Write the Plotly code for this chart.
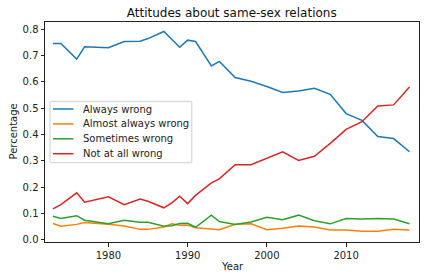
import plotly.graph_objects as go

years = [1973, 1974, 1976, 1977, 1980, 1982, 1984, 1985, 1987, 1988, 1989, 1990,
         1991, 1993, 1994, 1996, 1998, 2000, 2002, 2004, 2006, 2008, 2010, 2012,
         2014, 2016, 2018]

always_wrong = [0.745, 0.745, 0.686, 0.733, 0.729, 0.753, 0.754, 0.764, 0.791, 0.760, 0.731, 0.758,
                0.753, 0.660, 0.677, 0.616, 0.602, 0.582, 0.559, 0.565, 0.575, 0.552, 0.479, 0.453,
                0.392, 0.384, 0.334]
almost_always_wrong = [0.061, 0.051, 0.058, 0.065, 0.058, 0.052, 0.039, 0.039, 0.048, 0.060, 0.055, 0.055,
                       0.045, 0.042, 0.038, 0.058, 0.060, 0.038, 0.043, 0.052, 0.048, 0.037, 0.037, 0.032,
                       0.032, 0.039, 0.037]
sometimes_wrong = [0.089, 0.080, 0.091, 0.074, 0.060, 0.074, 0.066, 0.066, 0.051, 0.053, 0.061, 0.062,
                   0.047, 0.093, 0.069, 0.058, 0.067, 0.085, 0.076, 0.093, 0.072, 0.060, 0.080, 0.078,
                   0.080, 0.078, 0.060]
not_at_all_wrong = [0.117, 0.133, 0.178, 0.142, 0.163, 0.133, 0.154, 0.146, 0.121, 0.140, 0.165, 0.137,
                    0.168, 0.216, 0.231, 0.285, 0.285, 0.311, 0.334, 0.301, 0.317, 0.366, 0.419, 0.448,
                    0.508, 0.512, 0.580]

series = [
    ("Always wrong", always_wrong, "#1f77b4"),
    ("Almost always wrong", almost_always_wrong, "#ff7f0e"),
    ("Sometimes wrong", sometimes_wrong, "#2ca02c"),
    ("Not at all wrong", not_at_all_wrong, "#d62728"),
]

y_ticks = [0.0, 0.1, 0.2, 0.3, 0.4, 0.5, 0.6, 0.7, 0.8]
x_ticks = [1980, 1990, 2000, 2010]

fig = go.Figure()
for name, vals, color in series:
    fig.add_trace(go.Scatter(x=years, y=vals, mode="lines", name=name,
                             line=dict(color=color, width=1.5), showlegend=False))

W, H = 424, 280
L, R, T, B = 44.5, 5, 22.3, 37.7
pw, ph = W - L - R, H - T - B


def px(x):
    return (x - L) / pw


def py(y):
    return (H - B - y) / ph


axis_common = dict(showline=True, linecolor="#222222", linewidth=1, mirror=True,
                   ticks="outside", ticklen=3.5, tickwidth=1, tickcolor="#222222",
                   showgrid=False, zeroline=False,
                   tickfont=dict(family="DejaVu Sans", size=10, color="#222222"))

# custom legend (matplotlib-like compact spacing)
shapes = [dict(type="rect", xref="paper", yref="paper", layer="above",
               x0=px(49.5), x1=px(191.5), y0=py(163), y1=py(101.7),
               fillcolor="rgba(255,255,255,0.8)", line=dict(color="#d0d0d0", width=1))]
annotations = []
for i, (name, vals, color) in enumerate(series):
    yy = 109.3 + i * 14.9
    shapes.append(dict(type="line", xref="paper", yref="paper", layer="above",
                       x0=px(52.5), x1=px(73), y0=py(yy), y1=py(yy),
                       line=dict(color=color, width=1.5)))
    annotations.append(dict(text=name, xref="paper", yref="paper", x=px(80.5), y=py(yy),
                            xanchor="left", yanchor="middle", showarrow=False,
                            font=dict(size=10, color="#222222")))

annotations += [
    dict(text="Year", xref="paper", yref="paper", x=0.5, y=py(267),
         showarrow=False, xanchor="center", yanchor="middle", font=dict(size=10)),
    dict(text="Percentage", xref="paper", yref="paper", x=px(12), y=0.5,
         showarrow=False, xanchor="center", yanchor="middle", textangle=-90,
         font=dict(size=10)),
]

fig.update_layout(
    width=W, height=H,
    margin=dict(l=L, r=R, t=T, b=B, pad=0),
    paper_bgcolor="white", plot_bgcolor="white",
    font=dict(family="DejaVu Sans", size=10, color="#222222"),
    title=dict(text="Attitudes about same-sex relations", x=(L + pw / 2) / W, xanchor="center",
               xref="container", yref="container", y=1 - 13 / H, yanchor="middle",
               font=dict(size=12, color="#111111")),
    xaxis=dict(range=[1972.0, 2019.2], tickvals=x_ticks, ticktext=[str(v) for v in x_ticks],
               **axis_common),
    yaxis=dict(range=[-0.009, 0.827], tickvals=y_ticks, ticktext=[f"{v:.1f}" for v in y_ticks],
               **axis_common),
    showlegend=False,
    shapes=shapes,
    annotations=annotations,
)

fig.write_html("out.html")
